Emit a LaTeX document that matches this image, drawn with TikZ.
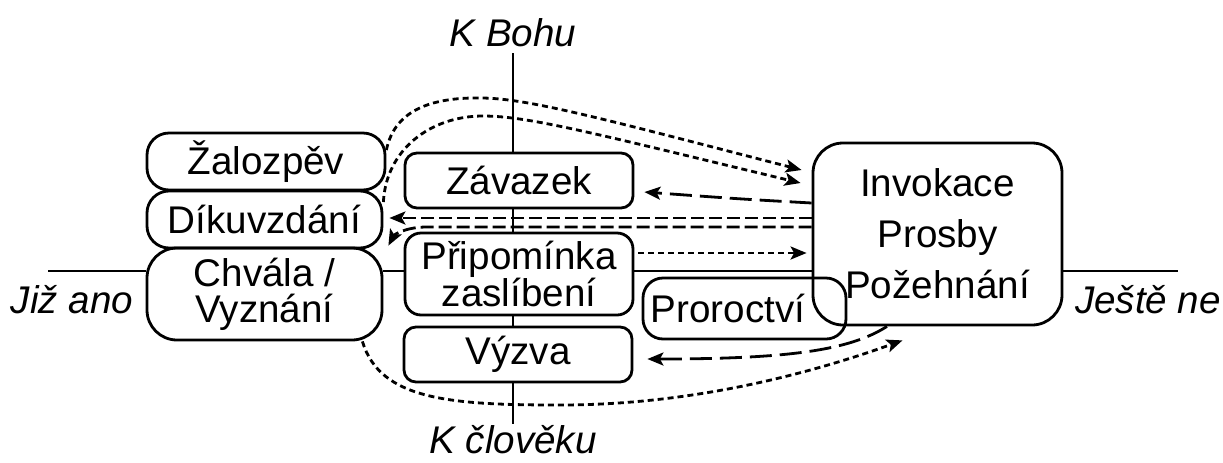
\documentclass[tikz,border=0pt]{standalone}
\usepackage{fontspec}
\setmainfont{Liberation Sans}
\usetikzlibrary{arrows.meta,calc}
\begin{document}
\begin{tikzpicture}[x=0.5pt,y=-0.5pt,
  box/.style={draw,line width=1.4pt,align=center,inner sep=0pt,font=\fontsize{19.3}{22}\selectfont},
  lbl/.style={font=\fontsize{19.3}{22}\selectfont\itshape,inner sep=0pt},
  axis/.style={line width=1.4pt},
  tip/.style={-{Stealth[length=8pt,width=6.5pt,inset=1.8pt]}},
  sdash/.style={line width=1.4pt,dash pattern=on 3pt off 2pt,tip},
  mdash/.style={line width=1.4pt,dash pattern=on 6.5pt off 2.5pt,tip},
  ldash/.style={line width=1.4pt,dash pattern=on 11pt off 4pt,tip},
]
\useasboundingbox (0,0) rectangle (1223,462);

% boxes
\node[box,rounded corners=11pt,minimum width=119pt,minimum height=28.5pt] (zal) at (266,161.5) {Žalozpěv};
\node[box,rounded corners=11pt,minimum width=117.5pt,minimum height=28.5pt] (dik) at (264.5,219.5) {Díkuvzdání};
\node[box,rounded corners=15pt,minimum width=117.5pt,minimum height=46pt,font=\fontsize{19.3}{18}\selectfont] (chv) at (264.5,294) {Chvála /\\Vyznání};
\node[box,rounded corners=6pt,minimum width=114pt,minimum height=27.5pt] (zav) at (519,180.5) {Závazek};
\node[box,rounded corners=8pt,minimum width=114pt,minimum height=41pt,font=\fontsize{19.3}{18.5}\selectfont] (pri) at (519,274) {Připomínka\\zaslíbení};
\node[box,rounded corners=6pt,minimum width=114pt,minimum height=27.5pt] (vyz) at (518,354.5) {Výzva};
\node[box,rounded corners=15pt,minimum width=124.5pt,minimum height=91pt,font=\fontsize{19.3}{25.5}\selectfont] (inv) at (937.5,234) {Invokace\\Prosby\\Požehnání};
\node[box,rounded corners=10pt,minimum width=101.5pt,minimum height=30.5pt] (pro) at (744.5,308.5) {Proroctví\hspace{16.5pt}};

% labels
\node[lbl] (kbohu) at (513,33) {K Bohu};
\node[lbl] (kclov) at (513,440) {K člověku};
\node[lbl] (jiz) at (72,300) {Již ano};
\node[lbl] (jeste) at (1148,300) {Ještě ne};

% axes
\coordinate (L) at (48,271);
\coordinate (R) at (1178,271);
\coordinate (T) at (513,53);
\coordinate (B) at (513,424);
\draw[axis] (L) -- (L -| chv.west);
\draw[axis] (chv.east |- L) -- (pri.west |- L);
\draw[axis] (pri.east |- L) -- (inv.west |- L);
\draw[axis] (inv.east |- L) -- (R);
\draw[axis] (T) -- (T |- zav.north);
\draw[axis] (T |- zav.south) -- (T |- pri.north);
\draw[axis] (T |- pri.south) -- (T |- vyz.north);
\draw[axis] (T |- vyz.south) -- (B);

% connectors
\draw[sdash] ($(zal.east)+(0,-11.5)$) .. controls (395,108) and (435,97) .. (483,98) .. controls (530,99) and (600,118) .. ($(inv.west)+(-10,-64)$);
\draw[sdash] ($(dik.east)+(0,-17.5)$) .. controls (386,150) and (430,116) .. (483,116) .. controls (530,116) and (600,135) .. ($(inv.west)+(-11,-51)$);
\draw[mdash] ($(inv.west)+(0,-16)$) -- ($(dik.east)+(6,-1.5)$);
\draw[mdash] ($(inv.west)+(0,-7)$) -- (427,227) .. controls (405,227) and (394,235) .. ($(chv.north east)+(5,-1)$);
\draw[ldash] ($(inv.west)+(0,-31)$) .. controls (740,199) .. ($(zav.east)+(10,11.5)$);
\draw[sdash] ($(pri.east)+(4,-21)$) -- ($(inv.west)+(-5,19)$);
\draw[ldash] ($(inv.south)+(-50.5,0)$) .. controls (850,350) and (790,359) .. ($(vyz.east)+(14,4.5)$);
\draw[sdash] ($(chv.south east)+(-21,0)$) .. controls (380,400) and (450,405) .. (560,405) .. controls (700,405) and (820,370) .. ($(inv.south)+(-35,14)$);
\end{tikzpicture}
\end{document}
